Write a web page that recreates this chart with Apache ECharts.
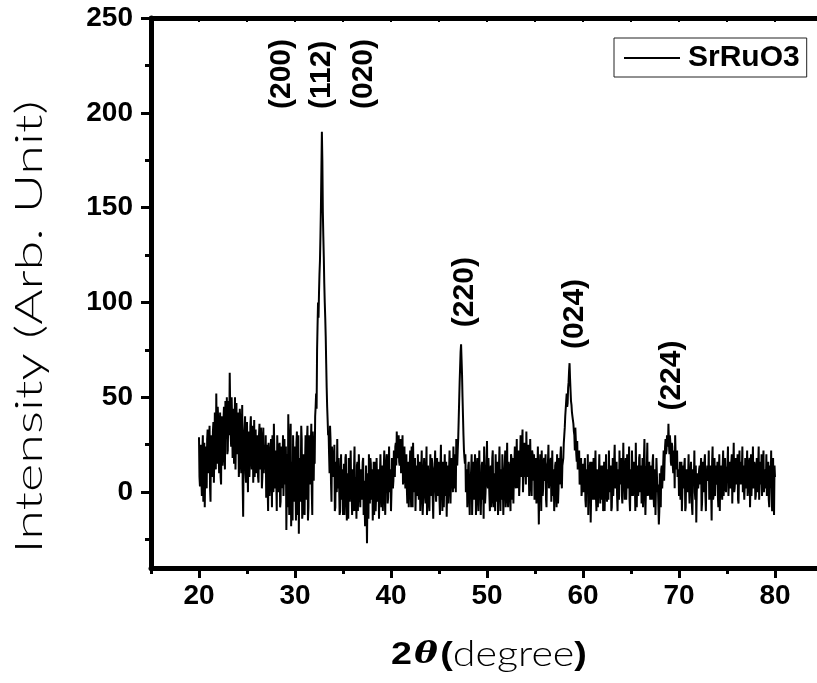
<!DOCTYPE html>
<html><head><meta charset="utf-8">
<script src="https://cdn.jsdelivr.net/npm/echarts@6/dist/echarts.min.js"></script>
<style>html,body{margin:0;padding:0;background:#fff}#c{width:817px;height:683px}</style>
</head><body><div id="c"></div>
<script>
// 2θ sampling grid (degrees): main samples every 0.1°, intermediate samples 0.05° after each
const startAngle = 20;
const stepAngle = 0.1;
const midOffset = 0.05;

// Intensity values at 20.0, 20.1, ... (one row per degree)
const intensity20s = [
  29, 3, 25, -2, 30, 10, -8, 24, 2, 33,
  12, 35, -5, 28, 8, 37, 20, 40, 52, 15,
  38, 10, 42, 4, 33, 20, 45, 12, 36, 50,
  22, 48, 63, 30, 50, 18, 44, 35, 12, 47,
  25, 42, 15, 38, 10, 46, -13, 30, 40, 5,
  37, 0, 32, 18, 40, 12, 35, 22, 8, 33,
  15, 30, 5, 36, 20, 28, 8, 34, 25, 12,
  -3, 25, -10, 20, 5, 28, -8, 18, 36, 2,
  22, -10, 18, 8, 26, -5, 24, 14, -2, 28,
  10, -20, 20, 41, -12, 28, -18, 16, 30, -5
];
const intensity30s = [
  24, -15, 32, 2, -22, 18, 8, 28, -10, 20,
  -12, 30, 4, 35, -8, 22, 12, 36, -12, 25,
  28, 40, 52, 75, 100, 105, 122, 150, 190, 148,
  124, 100, 82, 55, 38, 32, 10, 28, -5, 20,
  8, 25, -8, 14, 28, 2, 18, -10, 20, 5,
  -12, 15, 2, 20, -15, 10, 18, -5, 22, 0,
  12, -10, 24, 5, -14, 16, 3, 20, -8, 12,
  -3, 18, 6, -18, 14, -27, 10, 20, -6, 15,
  2, -15, 16, 6, -10, 18, -5, 12, 0, 20,
  -8, 14, 5, 22, -12, 10, 18, -3, 24, 8
];
const intensity40s = [
  -10, 18, 2, 22, 8, 26, 32, 18, 30, 14,
  28, 12, 30, 8, 24, 2, 20, -6, 16, 4,
  22, -8, 14, 26, 0, 18, -10, 12, 20, -4,
  16, 2, 22, -12, 10, 18, -6, 24, 4, 14,
  -10, 20, 6, 15, -14, 12, 22, -5, 18, 0,
  10, -12, 25, 3, 16, -8, 20, 8, -13, 14,
  4, 22, -6, 18, 10, 24, 2, 20, 28, 14,
  28, 48, 66, 78, 62, 40, 22, 15, 0, 12,
  -8, 16, -12, 6, 20, -13, 8, -5, 14, 2,
  18, -10, 22, 4, -12, 16, 8, 24, -6, 12
];
const intensity50s = [
  27, 2, 18, -10, 14, 6, 22, -8, 10, 20,
  -5, 16, 4, 24, -10, 12, 20, -12, 8, 22,
  6, 26, -8, 14, 3, 20, -4, 18, 10, 24,
  2, 28, 12, 22, 6, 30, 16, 33, 10, 26,
  18, 32, 8, 25, -2, 28, 14, 22, 6, 20,
  8, 18, 4, 24, -17, 14, 8, 22, -2, 16,
  6, 20, -8, 12, 25, 2, 16, -5, 22, 8,
  -10, 14, 4, 20, -6, 18, 10, 24, 2, 16,
  26, 34, 44, 52, 47, 58, 68, 54, 46, 40,
  36, 30, 34, 20, 27, 12, 22, 6, 18, -2
];
const intensity60s = [
  15, 4, 18, -8, 12, 20, 2, 10, -16, 16,
  -4, 18, 6, 22, -10, 12, 4, 20, -6, 14,
  8, -10, 16, 2, 20, -5, 12, 22, 0, 14,
  -8, 18, 6, 25, 2, 16, -10, 12, 22, 4,
  18, -6, 26, 8, 14, -4, 20, 6, 24, -10,
  12, 22, -2, 16, 6, 26, -8, 14, 2, 20,
  8, -6, 18, 4, 28, -12, 12, 26, 0, 16,
  -4, 14, 6, 20, -8, 12, 2, 18, 4, -17,
  10, -8, 14, 2, 22, 16, 28, 22, 30, 36,
  20, 26, 14, 24, 10, 18, 30, 12, 22, 8
];
const intensity70s = [
  -2, 16, 6, -10, 14, 2, 18, -8, 12, 4,
  20, -6, 10, 16, -12, 8, 22, -4, -16, 6,
  2, 12, 4, 18, -6, 16, 2, 20, -10, 10,
  6, 22, -4, 14, -15, 24, -2, 18, 10, 4,
  16, -8, 20, 8, 14, -4, 22, 6, 18, 0,
  12, 24, -2, 16, 6, 20, 10, 26, 2, 18,
  8, 20, -6, 22, 12, 4, 24, 14, -4, 18,
  10, 22, 2, 16, -8, 20, 8, 24, 6, 14,
  -2, 18, 10, 24, 4, 16, 20, 8, 22, 12,
  2, 20, 10, 16, -8, 14, 22, -10, 18, -12,
  8
];

// Intensity values read at the intermediate angles 20.05, 20.15, ...
const intensity20sMid = [
  8, 18, 6, 22, -5, 26, 14, 5, 28, 10,
  24, 2, 30, 14, 32, 5, 42, 12, 30, 45,
  18, 30, 8, 40, 14, 38, 22, 48, 28, 20,
  40, 30, 45, 24, 38, 42, 15, 50, 28, 20,
  36, 8, 44, 22, 30, 4, 20, 35, 10, 28,
  15, 28, 8, 35, 20, 30, 5, 38, 24, 10,
  25, 8, 30, 12, 34, 2, 26, 10, 18, 30,
  15, 2, 26, -2, 18, 12, 30, 0, 20, 10,
  6, 30, 0, 24, -8, 18, 2, 30, 12, 4,
  24, 4, -8, 18, 8, 36, 6, -15, 12, 20
];
const intensity30sMid = [
  6, 26, -12, 30, 10, -5, 35, -14, 14, 2,
  16, -4, 28, -15, 30, 4, 26, 0, 32, 6,
  15, 45, 44, 88, 92, 115, 135, 170, 175, 135,
  110, 92, 68, 45, 30, 20, 35, 5, 24, 10,
  12, -10, 16, 0, 6, 18, -12, 8, -4, 12,
  2, -12, 18, 0, 6, -14, -2, 10, 2, -12,
  -2, 12, -10, 8, 14, -10, 20, 0, 8, -4,
  16, -12, 6, -2, 14, 0, -14, 2, 18, -4,
  12, 2, -12, 16, -2, 4, 8, -14, 10, 2,
  14, -10, 6, -2, 10, 20, -6, 8, 0, 12
];
const intensity40sMid = [
  0, 18, 6, 10, 24, 14, 18, 22, 16, 14,
  10, 20, 4, 16, 8, 12, 2, 16, -8, 14,
  2, 24, -8, 10, 4, -10, 14, -2, 2, 10,
  -10, 12, 0, -4, 18, -2, 10, -12, 14, -6,
  6, -2, 18, -4, 4, 14, 0, 8, -2, 16,
  -4, 12, 0, -10, 14, 6, -2, 16, 2, -6,
  12, 4, 8, 18, 0, 10, 6, 0, 16, 22,
  38, 58, 74, 70, 50, 30, 18, 20, 2, -8,
  14, -2, 4, 12, -12, 16, -4, 20, -12, 4,
  -2, 10, 2, -12, 14, -4, -14, 12, 0, 14
];
const intensity50sMid = [
  4, 18, -2, 12, -8, 18, -4, 10, -10, 2,
  8, -12, 14, 4, 10, -4, 20, 0, 8, -8,
  12, -4, 16, 4, -10, 18, 2, -6, 14, 6,
  14, 2, 20, -2, 18, 8, 16, 0, 24, 8,
  4, 16, 10, 24, 4, 14, -2, 20, 6, -4,
  16, -6, 12, 0, 6, 20, -10, 8, 2, 18,
  8, -4, 12, 16, 2, 8, 18, 4, -2, 12,
  0, 16, -8, 8, 2, 4, 20, 6, 14, 18,
  30, 40, 48, 45, 55, 64, 60, 48, 42, 38,
  32, 22, 28, 16, 12, 20, 4, 14, -2, 6
];
const intensity60sMid = [
  0, 14, -4, 8, 2, -12, 10, 16, -2, 2,
  4, -4, 10, -2, 12, -8, 8, 2, 14, -4,
  14, 0, -10, 8, 0, 12, -4, 4, 10, -10,
  6, -2, 16, 4, 14, -2, 10, -4, 4, 12,
  -2, 10, 4, -4, 18, 6, 2, 10, -4, 8,
  -2, 10, 2, 16, -10, 6, 12, -2, 18, 0,
  14, 4, -8, 18, 2, 0, 14, -2, 12, 2,
  2, -4, 16, -2, 10, -12, 18, 0, 4, -10,
  0, 12, 2, 14, 6, 24, 20, 30, 24, 26,
  30, 16, 26, 14, 22, 2, 20, 12, 8, 12
];
const intensity70sMid = [
  4, -4, 16, 0, 2, 14, -10, 10, 0, 8,
  2, 8, 16, -8, 12, 6, 0, 14, 0, 10,
  2, 14, 4, -10, 8, 0, 16, -2, 8, 14,
  8, -4, 12, 0, 16, -4, 8, -2, 14, 6,
  -2, 8, -10, 12, 0, 14, -2, 8, 2, 10,
  14, -2, 12, 2, 16, -6, 12, 0, 8, 4,
  10, -4, 8, 4, 16, 12, 0, 14, 4, 2,
  12, -2, 8, 18, 4, -2, 10, 2, 16, -4,
  8, 0, 14, -4, 16, 4, -2, 12, 0, 10,
  4, -2, 14, -4, 12, 2, 0, 8, 0, 14
];

// Axis ticks
const xMajorTicks = [20, 30, 40, 50, 60, 70, 80];
const xMinorTicks = [15, 25, 35, 45, 55, 65, 75];
const xTopTicks = [15, 20, 25, 30, 35, 40, 45, 50, 55, 60, 65, 70, 75, 80];
const yMajorTicks = [0, 50, 100, 150, 200, 250];
const yMinorTicks = [-25, 25, 75, 125, 175, 225];

// Peak annotations (Miller indices), anchored at 2θ and intensity of the label's start
const peakLabels = ['(200)', '(112)', '(020)', '(220)', '(024)', '(224)'];
const peakAngles = [28.65, 32.76, 37.19, 47.71, 59.17, 69.27];
const peakLabelBase = [202, 202, 202, 87, 75.5, 43];

const mainVals = [].concat(intensity20s, intensity30s, intensity40s, intensity50s, intensity60s, intensity70s);
const midVals = [].concat(intensity20sMid, intensity30sMid, intensity40sMid, intensity50sMid, intensity60sMid, intensity70sMid);
const seriesData = [];
mainVals.forEach((v, i) => {
  const a = startAngle + i * stepAngle;
  seriesData.push([+a.toFixed(2), v]);
  if (i < midVals.length) seriesData.push([+(a + midOffset).toFixed(2), midVals[i]]);
});

const chart = echarts.init(document.getElementById('c'), null, {renderer: 'canvas'});
const bold = 'Liberation Sans';
const gridBox = {left: 151, top: 18, right: 0, bottom: 115};
const xMin = 15, xMax = 84.375, yMin = -40, yMax = 250;

const option = {
  animation: false,
  backgroundColor: '#fff',
  grid: [Object.assign({}, gridBox), Object.assign({}, gridBox)],
  legend: {
    data: ['SrRuO3'],
    left: 614, top: 38,
    padding: [5, 7, 4, 10],
    borderColor: '#222', borderWidth: 1,
    itemWidth: 56, itemHeight: 2, icon: 'rect',
    textStyle: {fontFamily: bold, fontWeight: 'bold', fontSize: 30, color: '#000', padding: [0, 0, 0, 3]}
  },
  xAxis: [
    {
      type: 'value', gridIndex: 0, position: 'bottom', min: xMin, max: xMax,
      axisLine: {show: true, onZero: false, lineStyle: {color: '#000', width: 5}},
      axisTick: {show: true, customValues: xMajorTicks, length: 10, lineStyle: {color: '#000', width: 3}},
      axisLabel: {customValues: xMajorTicks, fontFamily: bold, fontWeight: 'bold', fontSize: 28, color: '#000', margin: 14},
      splitLine: {show: false}
    },
    {
      type: 'value', gridIndex: 0, position: 'top', min: xMin, max: xMax,
      axisLine: {show: true, onZero: false, lineStyle: {color: '#000', width: 5}},
      axisTick: {show: true, inside: true, customValues: xTopTicks, length: 4, lineStyle: {color: '#000', width: 2}},
      axisLabel: {show: false},
      splitLine: {show: false}
    },
    {
      type: 'value', gridIndex: 1, position: 'bottom', min: xMin, max: xMax,
      axisLine: {show: false, onZero: false},
      axisTick: {show: true, customValues: xMinorTicks, length: 6, lineStyle: {color: '#000', width: 3}},
      axisLabel: {show: false},
      splitLine: {show: false}
    }
  ],
  yAxis: [
    {
      type: 'value', gridIndex: 0, position: 'left', min: yMin, max: yMax,
      axisLine: {show: true, onZero: false, lineStyle: {color: '#000', width: 5}},
      axisTick: {show: true, customValues: yMajorTicks, length: 10, lineStyle: {color: '#000', width: 3}},
      axisLabel: {customValues: yMajorTicks, fontFamily: bold, fontWeight: 'bold', fontSize: 28, color: '#000', margin: 18},
      splitLine: {show: false}
    },
    {
      type: 'value', gridIndex: 1, position: 'left', min: yMin, max: yMax,
      axisLine: {show: false, onZero: false},
      axisTick: {show: true, customValues: yMinorTicks, length: 6, lineStyle: {color: '#000', width: 3}},
      axisLabel: {show: false},
      splitLine: {show: false}
    }
  ],
  series: [
    {
      name: 'SrRuO3', type: 'line', xAxisIndex: 0, yAxisIndex: 0,
      data: seriesData, symbol: 'none', sampling: null,
      lineStyle: {color: '#000', width: 2}, itemStyle: {color: '#000'}
    }
  ]
};
chart.setOption(option);

const ctx = document.createElement('canvas').getContext('2d');

// Y axis title (light geometric face, stretched to the reference length)
const yTitle = 'Intensity (Arb. Unit)';
const yTitleFont = '300 37px Lato';
ctx.font = yTitleFont;
const yTitleScale = 453 / ctx.measureText(yTitle).width;

// X axis title: bold "2θ(" + light "degree" + bold ")"
const xTitleParts = [
  {t: '2', font: 'bold 32px "Liberation Sans"', style: 'a'},
  {t: 'θ', font: 'italic bold 30px "DejaVu Serif"', style: 'b'},
  {t: '(', font: 'bold 32px "Liberation Sans"', style: 'a'},
  {t: 'degree', font: '300 35px Lato', style: 'c'},
  {t: ')', font: 'bold 32px "Liberation Sans"', style: 'a'}
];
let xTitleW = 0;
xTitleParts.forEach(p => { ctx.font = p.font; xTitleW += ctx.measureText(p.t).width; });
xTitleW += 4;
const xTitleScale = 196 / xTitleW;
const xCenter = chart.convertToPixel({xAxisIndex: 0}, 50.2);

const graphics = [{
  type: 'text', x: 30, y: 327, rotation: Math.PI / 2, scaleX: yTitleScale,
  style: {text: yTitle, font: yTitleFont, fill: '#000', align: 'center', verticalAlign: 'middle'}
}, {
  type: 'text', x: xCenter, y: 655, scaleX: xTitleScale,
  style: {
    text: xTitleParts.map(p => '{' + p.style + '|' + p.t + '}').join(''),
    align: 'center', verticalAlign: 'middle',
    rich: {
      a: {fontFamily: bold, fontWeight: 'bold', fontSize: 32, fill: '#000'},
      b: {fontFamily: 'DejaVu Serif', fontWeight: 'bold', fontStyle: 'italic', fontSize: 30, fill: '#000', padding: [0, 2, 0, 2]},
      c: {fontFamily: 'Lato', fontWeight: 300, fontSize: 35, fill: '#000'}
    }
  }
}];
peakLabels.forEach((t, i) => {
  const p = chart.convertToPixel({xAxisIndex: 0, yAxisIndex: 0}, [peakAngles[i], peakLabelBase[i]]);
  graphics.push({
    type: 'text', x: p[0], y: p[1], rotation: Math.PI / 2,
    style: {text: t, font: 'bold 30px "Liberation Sans"', fill: '#000', align: 'left', verticalAlign: 'middle'}
  });
});
chart.setOption({graphic: graphics});
</script>
</body></html>
